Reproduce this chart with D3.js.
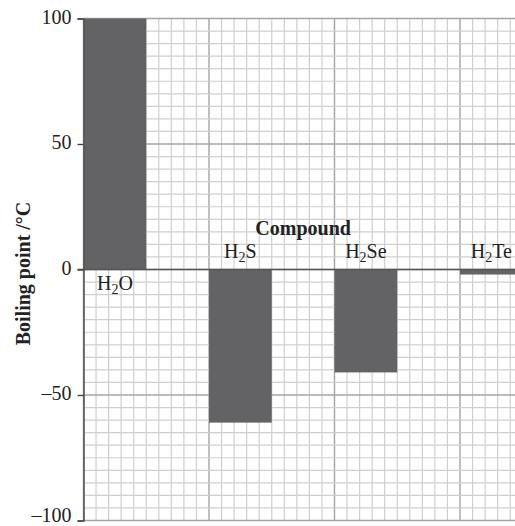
<!DOCTYPE html>
<html>
<head>
<meta charset="utf-8">
<script src="https://cdn.jsdelivr.net/npm/d3@7"></script>
<style>
  html, body { margin: 0; padding: 0; background: #fff; }
  svg { display: block; }
</style>
</head>
<body>
<div id="chart"></div>
<script>
// ---------------------------------------------------------------------------
// Boiling points of group 16 hydrides — bar chart on graph paper
// ---------------------------------------------------------------------------

const compounds = ['H2O', 'H2S', 'H2Se', 'H2Te'];
const formulaParts = [['H', '2', 'O'], ['H', '2', 'S'], ['H', '2', 'Se'], ['H', '2', 'Te']];
const boilingPoints = [100, -61, -41, -2];
const yTicks = [100, 50, 0, -50, -100];
const axisTitle = 'Boiling point /°C';
const groupTitle = 'Compound';

const width = 515, height = 526;
const margin = { top: 18.5, left: 83.5, bottom: 5.5 };
const cell = 12.55;            // one small square of the graph paper
const cellsPerGroup = 10;

const svg = d3.select('#chart').append('svg')
  .attr('width', width).attr('height', height)
  .style('font-family', '"Liberation Serif", "Times New Roman", serif');

const y = d3.scaleLinear().domain([-100, 100]).range([height - margin.bottom, margin.top]);
const xCells = d3.scaleLinear().domain([0, 40]).range([margin.left, margin.left + 40 * cell]);
const x = d3.scaleBand().domain(compounds)
  .range([margin.left, margin.left + compounds.length * cellsPerGroup * cell])
  .padding(0);

// graph paper grid
const grid = svg.append('g');
d3.range(0, 41).forEach((c) => {
  const major = c % 10 === 0;
  grid.append('line')
    .attr('x1', xCells(c)).attr('x2', xCells(c))
    .attr('y1', y(100)).attr('y2', y(-100))
    .attr('stroke', major ? '#a4a4a8' : '#cfcfd3')
    .attr('stroke-width', major ? 1.4 : 1.2);
});
y.ticks(40).forEach((v) => {
  const major = v % 50 === 0;
  grid.append('line')
    .attr('x1', margin.left).attr('x2', width)
    .attr('y1', y(v)).attr('y2', y(v))
    .attr('stroke', major ? '#a4a4a8' : '#cfcfd3')
    .attr('stroke-width', major ? 1.4 : 1.2);
});

// bars (each occupies the first half of its group)
svg.append('g').selectAll('rect')
  .data(compounds)
  .join('rect')
  .attr('x', (d) => x(d))
  .attr('width', x.bandwidth() / 2)
  .attr('y', (d, i) => y(Math.max(0, boilingPoints[i])))
  .attr('height', (d, i) => Math.abs(y(boilingPoints[i]) - y(0)))
  .attr('fill', '#636365');

// zero line
svg.append('line')
  .attr('x1', margin.left - 6).attr('x2', width)
  .attr('y1', y(0)).attr('y2', y(0))
  .attr('stroke', '#555').attr('stroke-width', 1.6);

// y axis
const axis = svg.append('g').attr('transform', `translate(${margin.left},0)`)
  .call(d3.axisLeft(y).tickValues(yTicks).tickSize(6).tickPadding(6)
    .tickFormat((d) => (d < 0 ? '\u2013' + Math.abs(d) : d)));
axis.select('.domain').attr('stroke', '#555').attr('stroke-width', 1.6);
axis.selectAll('.tick line').attr('stroke', '#444').attr('stroke-width', 1.4);
axis.selectAll('.tick text')
  .attr('fill', '#222')
  .attr('dy', (d) => (d === -100 ? '0.04em' : '0.24em'))   // keep the bottom label inside the frame
  .style('font-size', '20px')
  .style('font-family', '"Liberation Serif", serif');

// compound labels with subscript
const labels = svg.append('g').selectAll('text')
  .data(compounds)
  .join('text')
  .attr('x', (d) => x(d) + x.bandwidth() / 4)
  .attr('y', (d, i) => (boilingPoints[i] > 0 ? y(0) + 20 : y(0) - 12))
  .attr('text-anchor', 'middle')
  .attr('fill', '#222')
  .style('font-size', '20px');
labels.each(function (d, i) {
  const t = d3.select(this);
  const [a, sub, b] = formulaParts[i];
  t.append('tspan').text(a);
  t.append('tspan').text(sub).attr('dy', 4).style('font-size', '14px');
  t.append('tspan').text(b).attr('dy', -4);
});

// group title
svg.append('text')
  .attr('x', (x('H2S') + x('H2Se') + x.bandwidth() / 2) / 2)
  .attr('y', y(0) - 35)
  .attr('text-anchor', 'middle')
  .attr('fill', '#222')
  .style('font-size', '20px').style('font-weight', 'bold')
  .text(groupTitle);

// y axis title
svg.append('text')
  .attr('transform', `translate(30,${y(0) + 4}) rotate(-90)`)
  .attr('text-anchor', 'middle')
  .attr('fill', '#222')
  .style('font-size', '20px').style('font-weight', 'bold')
  .text(axisTitle);
</script>
</body>
</html>
